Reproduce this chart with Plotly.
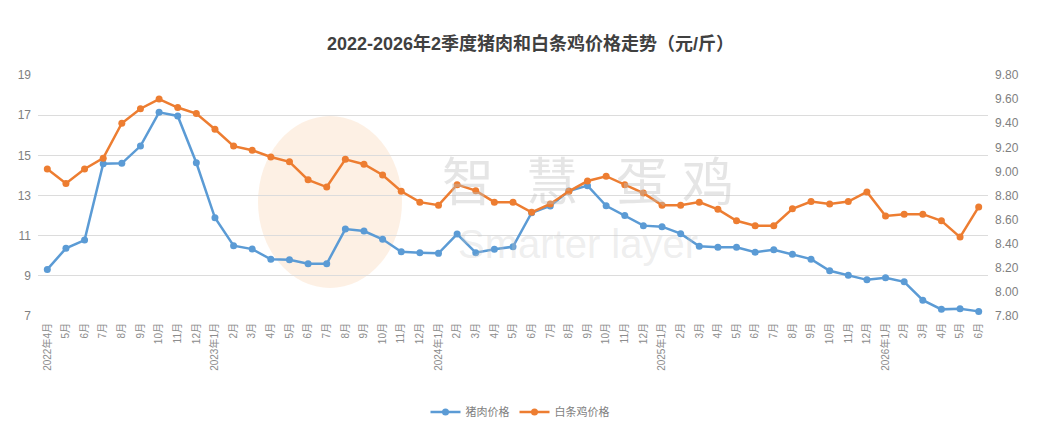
import plotly.graph_objects as go

months = ["2022年4月", "5月", "6月", "7月", "8月", "9月", "10月", "11月", "12月",
          "2023年1月", "2月", "3月", "4月", "5月", "6月", "7月", "8月", "9月", "10月", "11月", "12月",
          "2024年1月", "2月", "3月", "4月", "5月", "6月", "7月", "8月", "9月", "10月", "11月", "12月",
          "2025年1月", "2月", "3月", "4月", "5月", "6月", "7月", "8月", "9月", "10月", "11月", "12月",
          "2026年1月", "2月", "3月", "4月", "5月", "6月"]

pork = [9.32, 10.37, 10.78, 14.58, 14.6, 15.46, 17.14, 16.96, 14.63,
        11.89, 10.5, 10.33, 9.82, 9.8, 9.6, 9.6, 11.33, 11.23, 10.82, 10.2, 10.15,
        10.12, 11.08, 10.15, 10.32, 10.45, 12.14, 12.48, 13.22, 13.49, 12.49, 12.0, 11.5,
        11.45, 11.1, 10.47, 10.42, 10.42, 10.18, 10.3, 10.08, 9.83, 9.25, 9.03, 8.8,
        8.9, 8.7, 7.79, 7.33, 7.36, 7.23]

chicken = [9.02, 8.90, 9.02, 9.11, 9.40, 9.52, 9.60, 9.53, 9.48,
           9.35, 9.21, 9.175, 9.12, 9.08, 8.93, 8.87, 9.10, 9.06, 8.97, 8.835, 8.745,
           8.72, 8.89, 8.84, 8.745, 8.745, 8.66, 8.73, 8.835, 8.92, 8.96, 8.89, 8.82,
           8.72, 8.72, 8.745, 8.685, 8.59, 8.55, 8.55, 8.69, 8.75, 8.73, 8.75, 8.83,
           8.63, 8.645, 8.645, 8.59, 8.455, 8.705]

title_text = "2022-2026年2季度猪肉和白条鸡价格走势（元/斤）"
series_names = ["猪肉价格", "白条鸡价格"]
left_ticks = [7, 9, 11, 13, 15, 17, 19]
right_ticks = [7.8, 8.0, 8.2, 8.4, 8.6, 8.8, 9.0, 9.2, 9.4, 9.6, 9.8]

BLUE = "#5B9BD5"
ORANGE = "#ED7D31"
FONT = "Liberation Sans, Arial, Noto Sans CJK SC, sans-serif"

x = list(range(len(months)))

fig = go.Figure()
fig.add_trace(go.Scatter(x=x, y=pork, name=series_names[0], mode="lines+markers",
                         line=dict(color=BLUE, width=2.5),
                         marker=dict(color=BLUE, size=7), yaxis="y"))
fig.add_trace(go.Scatter(x=x, y=chicken, name=series_names[1], mode="lines+markers",
                         line=dict(color=ORANGE, width=2.5),
                         marker=dict(color=ORANGE, size=7), yaxis="y2"))

# watermark (logo + text)
def px2paper(px, py):
    return (px - 38) / 950, (316 - py) / 241

ex0, ey0 = px2paper(258, 288)
ex1, ey1 = px2paper(402, 116)
fig.add_shape(type="circle", xref="paper", yref="paper", x0=ex0, y0=ey0, x1=ex1, y1=ey1,
              fillcolor="rgba(250,222,196,0.45)", line=dict(width=0), layer="below")

wm_chars = ["智", "慧", "蛋", "鸡"]
wm_x = [468, 552, 642, 736]
for ch, cx in zip(wm_chars, wm_x):
    px_, py_ = px2paper(cx, 178)
    fig.add_annotation(text=ch, xref="paper", yref="paper", x=px_, y=py_, showarrow=False,
                       font=dict(size=52, color="rgba(190,190,190,0.4)", family="Noto Sans CJK SC"))
sx, sy = px2paper(578, 268)
fig.add_annotation(text="Smarter layer", xref="paper", yref="paper", x=sx, y=sy, showarrow=False,
                   font=dict(size=40, color="rgba(200,200,200,0.3)", family="Liberation Sans, Arial"))

fig.update_layout(
    width=1061, height=446,
    margin=dict(l=38, r=73, t=75, b=130),
    paper_bgcolor="white", plot_bgcolor="white",
    font=dict(family=FONT, color="#7f7f7f"),
    title=dict(text="<b>" + title_text + "</b>", x=0.5, xanchor="center",
               y=1 - 44 / 446, yanchor="middle",
               font=dict(size=18, color="#404040", family=FONT)),
    xaxis=dict(tickmode="array", tickvals=x, ticktext=months, tickangle=-90,
               range=[-0.5, len(months) - 0.5], showgrid=False, zeroline=False,
               showline=False, ticks="", tickfont=dict(size=10, color="#8c8c8c"),
               ticklabelstandoff=4),
    yaxis=dict(range=[7, 19], tickvals=left_ticks, showgrid=True, gridcolor="#dcdcdc",
               gridwidth=1, zeroline=False, showline=False, ticks="",
               tickfont=dict(size=12, color="#7f7f7f"), ticklabelstandoff=6),
    yaxis2=dict(range=[7.8, 9.8], tickvals=right_ticks, tickformat=".2f", overlaying="y",
                side="right", showgrid=False, zeroline=False, showline=False, ticks="",
                tickfont=dict(size=12, color="#7f7f7f"), ticklabelstandoff=6),
    legend=dict(orientation="h", x=(520 - 38) / 950, xanchor="center", y=-(412 - 316) / 241,
                yanchor="middle", font=dict(size=11, color="#7f7f7f"), itemwidth=30),
    showlegend=True,
)

fig.write_html("out.html")
